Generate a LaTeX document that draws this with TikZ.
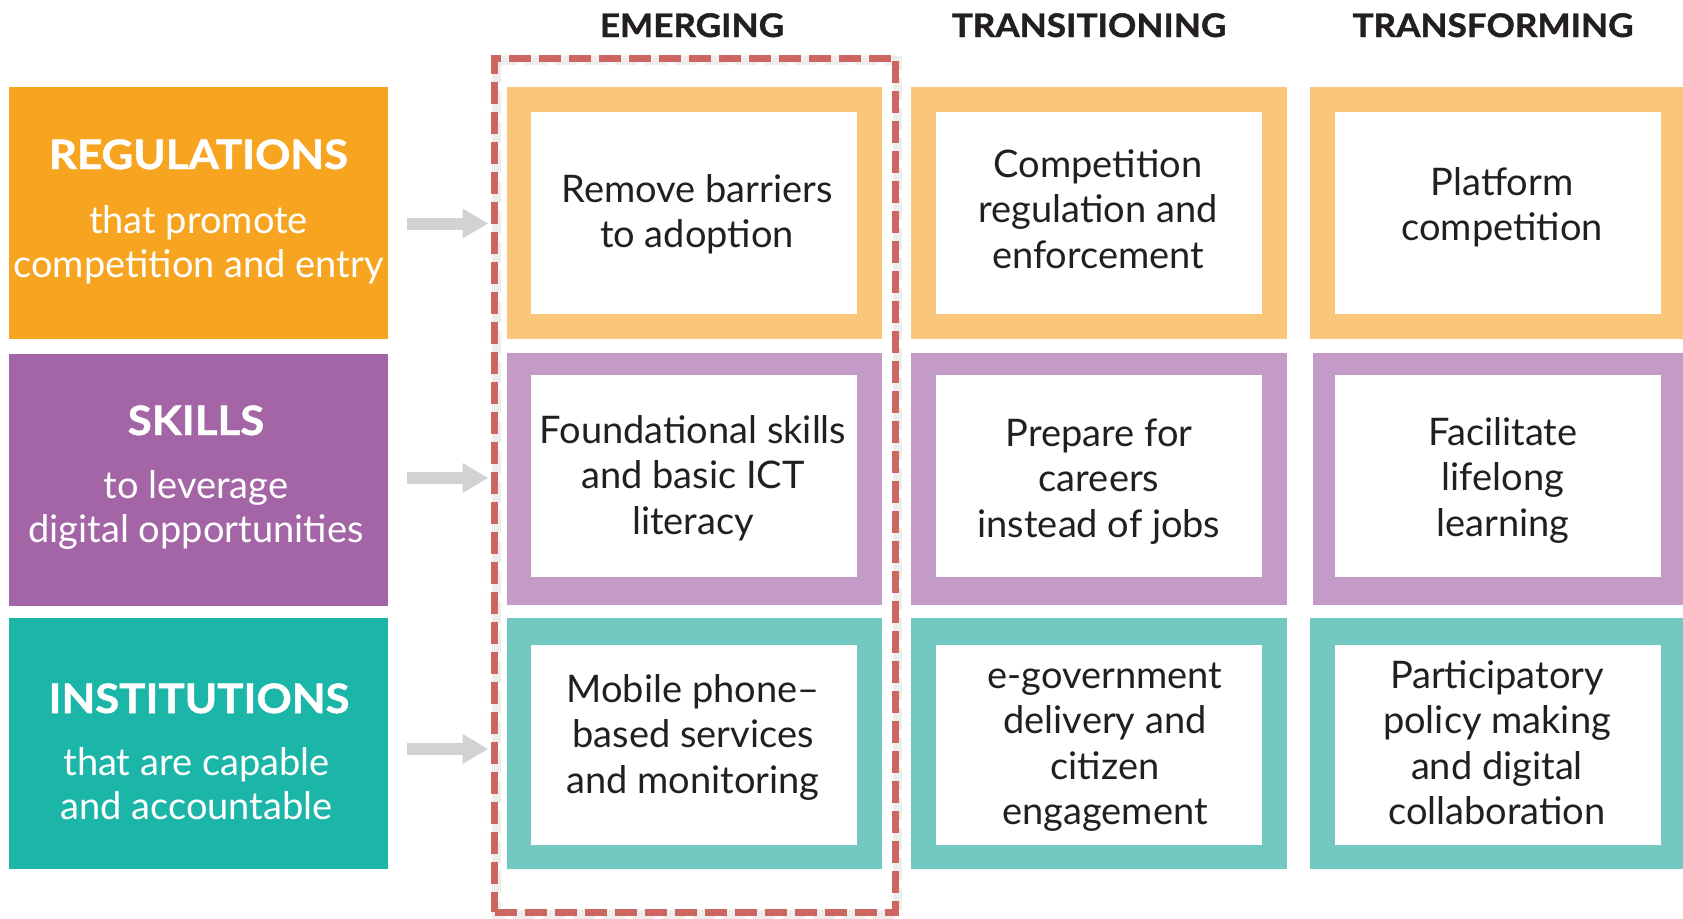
\documentclass[tikz,border=0pt]{standalone}
\usepackage{fontspec}
\setmainfont{Lato}
\newfontfamily\headfont{Lato}[FakeStretch=1.08,FakeBold=1.2]
\usetikzlibrary{arrows.meta}

\definecolor{regdark}{HTML}{F7A521}
\definecolor{reglight}{HTML}{F9C67A}
\definecolor{skldark}{HTML}{A365A6}
\definecolor{skllight}{HTML}{C49AC6}
\definecolor{insdark}{HTML}{1BB6A8}
\definecolor{inslight}{HTML}{73C9C1}
\definecolor{arrowgrey}{HTML}{D1D2D4}
\definecolor{framered}{HTML}{CD6661}
\definecolor{inktext}{HTML}{231F20}

\newcommand\bodyfont{\fontsize{38}{45.5}\selectfont}
\newcommand\subfont{\fontsize{38}{44.5}\selectfont}
\newcommand\pillarfont{\headfont\bfseries\fontsize{40.5}{45}\selectfont}
\newcommand\stagefont{\headfont\bfseries\fontsize{32.5}{36}\selectfont}
% strut fixing the first baseline 30pt below a node's north edge
\newcommand\firstline{\rule{0pt}{30pt}}

\begin{document}
\begin{tikzpicture}[x=1pt,y=-1pt,
  box/.style={rectangle,inner sep=0pt,outer sep=0pt,draw=none},
  pillar/.style={box,minimum width=379pt,fill=#1},
  cell/.style={box,fill=#1},
  panel/.style={box,fill=white,minimum width=326pt},
  celltext/.style={anchor=north,inner sep=0pt,align=center,font=\bodyfont,text=inktext},
  pillartitle/.style={anchor=base,inner sep=0pt,font=\pillarfont,text=white},
  pillarsub/.style={anchor=north,inner sep=0pt,align=center,font=\subfont,text=white},
  stage/.style={anchor=base,inner sep=0pt,font=\stagefont,text=inktext},
  bigarrow/.style={draw=arrowgrey,line width=12pt,
    -{Triangle[length=26pt,width=28pt]},shorten <=19pt,shorten >=6pt},
  frameline/.style={dash pattern=on 22pt off 8pt,line width=7pt}
]
\useasboundingbox (0,0) rectangle (1683,918);

% stage headings
\node[stage] (hE) at (692,37) {EMERGING};
\node[stage] (hT) at (1089,37) {TRANSITIONING};
\node[stage] (hF) at (1493,37) {TRANSFORMING};

% pillars on the left
\node[pillar=regdark,minimum height=252pt] (reg) at (198.5,213) {};
\node[pillar=skldark,minimum height=252pt] (skl) at (198.5,480) {};
\node[pillar=insdark,minimum height=251pt] (ins) at (198.5,743.5) {};

\node[pillartitle] (regT) at (198.5,169) {REGULATIONS};
\node[pillarsub] (regS) at (198.5,203) {\firstline that promote\\competition and entry};
\node[pillartitle] (sklT) at (196,435) {SKILLS};
\node[pillarsub] (sklS) at (196,468) {\firstline to leverage\\digital opportunities};
\node[pillartitle] (insT) at (199,713) {INSTITUTIONS};
\node[pillarsub] (insS) at (196.5,745) {\firstline that are capable\\and accountable};

% coloured cells: outer band and white panel
\node[cell=reglight,minimum width=375pt,minimum height=252pt] (e1o) at (694.5,213) {};
\node[cell=reglight,minimum width=376pt,minimum height=252pt] (t1o) at (1099,213) {};
\node[cell=reglight,minimum width=376pt,minimum height=252pt] (f1o) at (1498,213) {};
\node[cell=skllight,minimum width=375pt,minimum height=252pt] (e2o) at (694.5,479) {};
\node[cell=skllight,minimum width=376pt,minimum height=252pt] (t2o) at (1099,479) {};
\node[cell=skllight,minimum width=373pt,minimum height=252pt] (f2o) at (1499.5,479) {};
\node[cell=inslight,minimum width=375pt,minimum height=251pt] (e3o) at (694.5,743.5) {};
\node[cell=inslight,minimum width=376pt,minimum height=251pt] (t3o) at (1099,743.5) {};
\node[cell=inslight,minimum width=376pt,minimum height=251pt] (f3o) at (1498,743.5) {};

\node[panel,minimum height=202pt] (e1i) at (694,213) {};
\node[panel,minimum height=202pt] (t1i) at (1099,213) {};
\node[panel,minimum height=202pt] (f1i) at (1498,213) {};
\node[panel,minimum height=202pt] (e2i) at (694,476) {};
\node[panel,minimum height=202pt] (t2i) at (1099,476) {};
\node[panel,minimum height=202pt] (f2i) at (1498,476) {};
\node[panel,minimum height=200pt] (e3i) at (694,745) {};
\node[panel,minimum height=200pt] (t3i) at (1099,745) {};
\node[panel,minimum height=200pt] (f3i) at (1498,745) {};

% cell texts
\node[celltext] (e1) at (697,172) {\firstline Remove barriers\\to adoption};
\node[celltext] (t1) at (1098,147) {\firstline Competition\\regulation and\\enforcement};
\node[celltext] (f1) at (1502,165) {\firstline Platform\\competition};
\node[celltext] (e2) at (693,413) {\firstline Foundational skills\\and basic ICT\\literacy};
\node[celltext] (t2) at (1099,416) {\firstline Prepare for\\careers\\instead of jobs};
\node[celltext] (f2) at (1503,415) {\firstline Facilitate\\lifelong\\learning};
\node[celltext] (e3) at (693,672) {\firstline Mobile phone–\\based services\\and monitoring};
\node[celltext] (t3) at (1105,658) {\firstline e-government\\delivery and\\citizen\\engagement};
\node[celltext] (f3) at (1497,658) {\firstline Participatory\\policy making\\and digital\\collaboration};

% dashed frame round the emerging column, with a soft shadow
\draw[frameline,draw=black,opacity=0.07,line width=9pt]
  (496.5,60.5) rectangle (897.5,914.5);
\node[box,frameline,draw=framered,minimum width=401pt,minimum height=854pt]
  (frame) at (695,485) {};

% arrows from each pillar into the emerging column
\coordinate (a1) at (0,223.5);
\coordinate (a2) at (0,478);
\coordinate (a3) at (0,749);
\draw[bigarrow] (reg.east |- a1) -- (frame.west |- a1);
\draw[bigarrow] (skl.east |- a2) -- (frame.west |- a2);
\draw[bigarrow] (ins.east |- a3) -- (frame.west |- a3);
\end{tikzpicture}
\end{document}
